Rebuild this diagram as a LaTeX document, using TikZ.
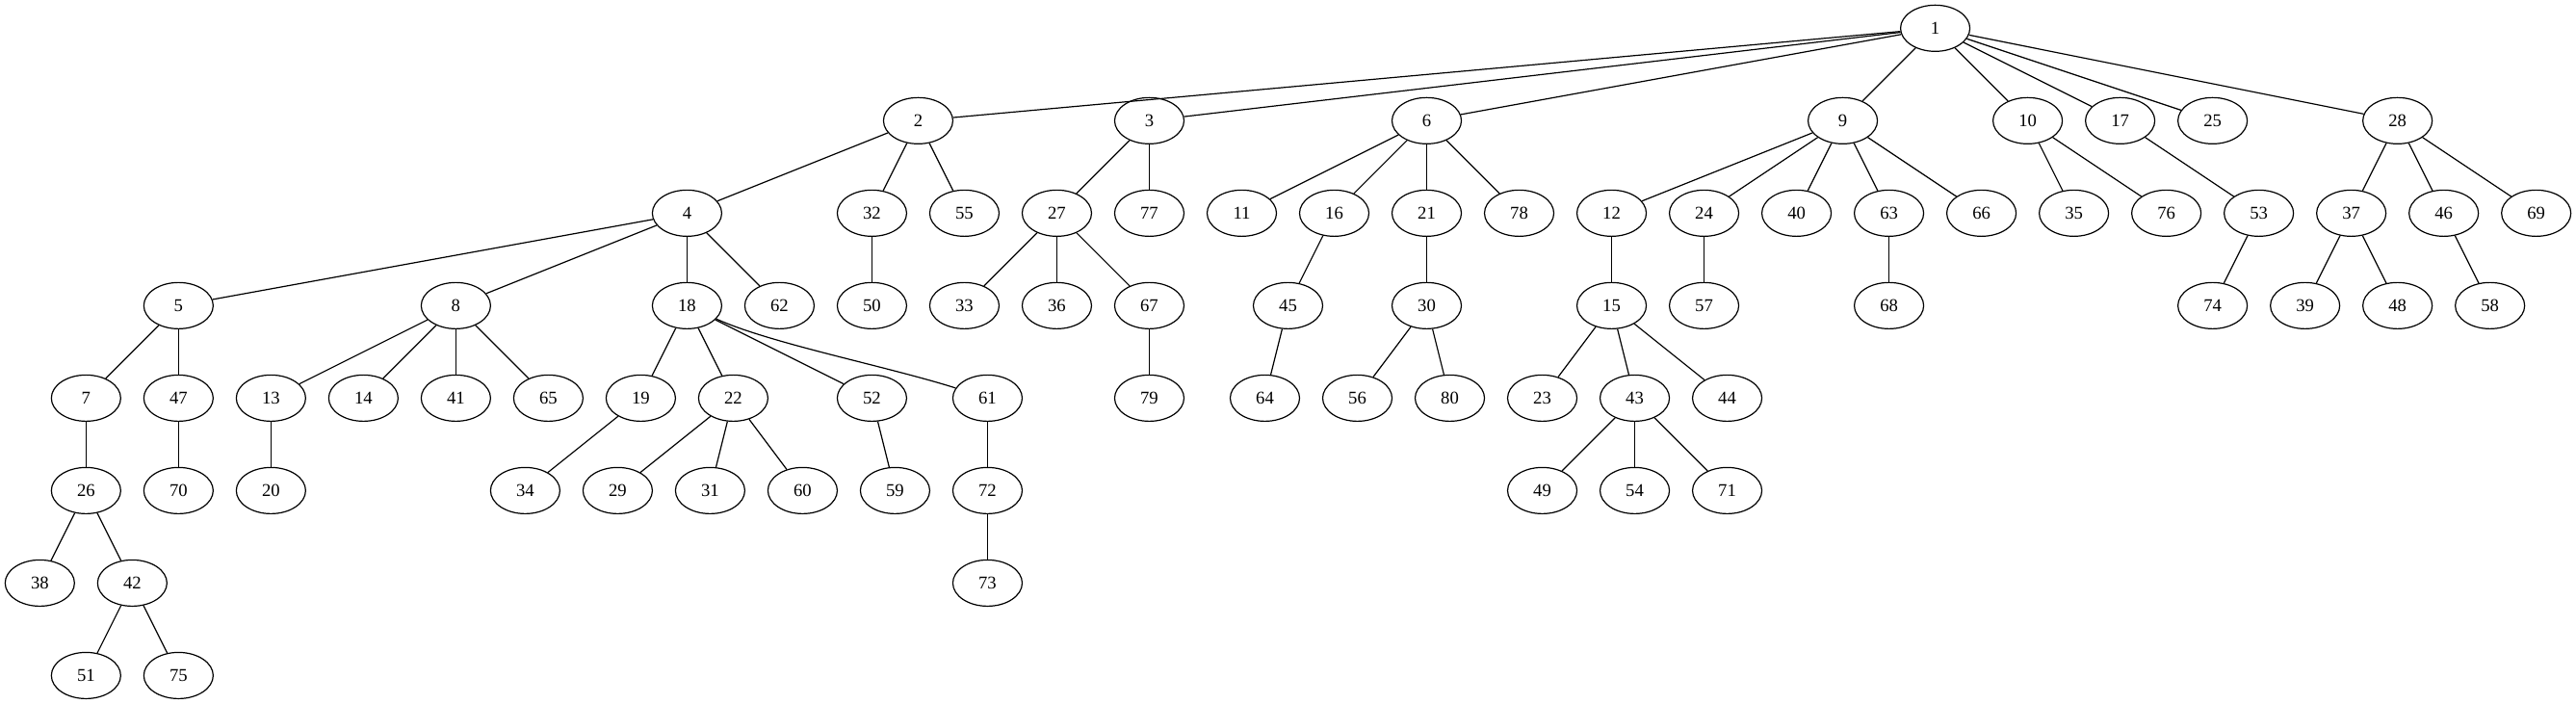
\documentclass[tikz,border=0pt]{standalone}
\usepackage{fontspec}
\setmainfont{Liberation Serif}
\usetikzlibrary{shapes.geometric}
\begin{document}
\begin{tikzpicture}[x=1pt,y=-1pt,
  nd/.style={draw=black,line width=0.9pt,ellipse,minimum width=54pt,minimum height=36pt,inner sep=0pt,font=\fontsize{14}{16}\selectfont},
  ed/.style={draw=black,line width=0.9pt}]
\fill[white] (0,0) rectangle (2006,548);
\useasboundingbox (0,0) rectangle (2006,548);
\foreach \n/\x/\r in {
 1/1507/0,
 2/715/1, 3/895/1, 6/1111/1, 9/1435/1, 10/1579/1, 17/1651/1, 25/1723/1, 28/1867/1,
 4/535/2, 32/679/2, 55/751/2, 27/823/2, 77/895/2, 11/967/2, 16/1039/2, 21/1111/2, 78/1183/2, 12/1255/2, 24/1327/2, 40/1399/2, 63/1471/2, 66/1543/2, 35/1615/2, 76/1687/2, 53/1759/2, 37/1831/2, 46/1903/2, 69/1975/2,
 5/139/3, 8/355/3, 18/535/3, 62/607/3, 50/679/3, 33/751/3, 36/823/3, 67/895/3, 45/1003/3, 30/1111/3, 15/1255/3, 57/1327/3, 68/1471/3, 74/1723/3, 39/1795/3, 48/1867/3, 58/1939/3,
 7/67/4, 47/139/4, 13/211/4, 14/283/4, 41/355/4, 65/427/4, 19/499/4, 22/571/4, 52/679/4, 61/769/4, 79/895/4, 64/985/4, 56/1057/4, 80/1129/4, 23/1201/4, 43/1273/4, 44/1345/4,
 26/67/5, 70/139/5, 20/211/5, 34/409/5, 29/481/5, 31/553/5, 60/625/5, 59/697/5, 72/769/5, 49/1201/5, 54/1273/5, 71/1345/5,
 38/31/6, 42/103/6, 73/769/6,
 51/67/7, 75/139/7}
{
  \pgfmathsetmacro{\yy}{22+72*\r}
  \node[nd] (n\n) at (\x,\yy) {\n};
}
\foreach \a/\b in {
 1/2, 1/3, 1/6, 1/9, 1/10, 1/17, 1/25, 1/28,
 2/4, 2/32, 2/55, 3/27, 3/77,
 6/11, 6/16, 6/21, 6/78,
 9/12, 9/24, 9/40, 9/63, 9/66,
 10/35, 10/76, 17/53, 28/37, 28/46, 28/69,
 4/5, 4/8, 4/18, 4/62, 32/50, 27/33, 27/36, 27/67,
 16/45, 21/30, 12/15, 24/57, 63/68, 53/74, 37/39, 37/48, 46/58,
 5/7, 5/47, 8/13, 8/14, 8/41, 8/65,
 18/19, 18/22, 18/52, 67/79, 45/64, 30/56, 30/80,
 15/23, 15/43, 15/44, 7/26, 47/70, 13/20, 19/34,
 22/29, 22/31, 22/60, 52/59, 61/72, 43/49, 43/54, 43/71,
 26/38, 26/42, 72/73, 42/51, 42/75}
{
  \draw[ed] (n\a) -- (n\b);
}
\draw[ed] (n18) .. controls (600,267.5) and (690,285) .. (n61);
\end{tikzpicture}
\end{document}
